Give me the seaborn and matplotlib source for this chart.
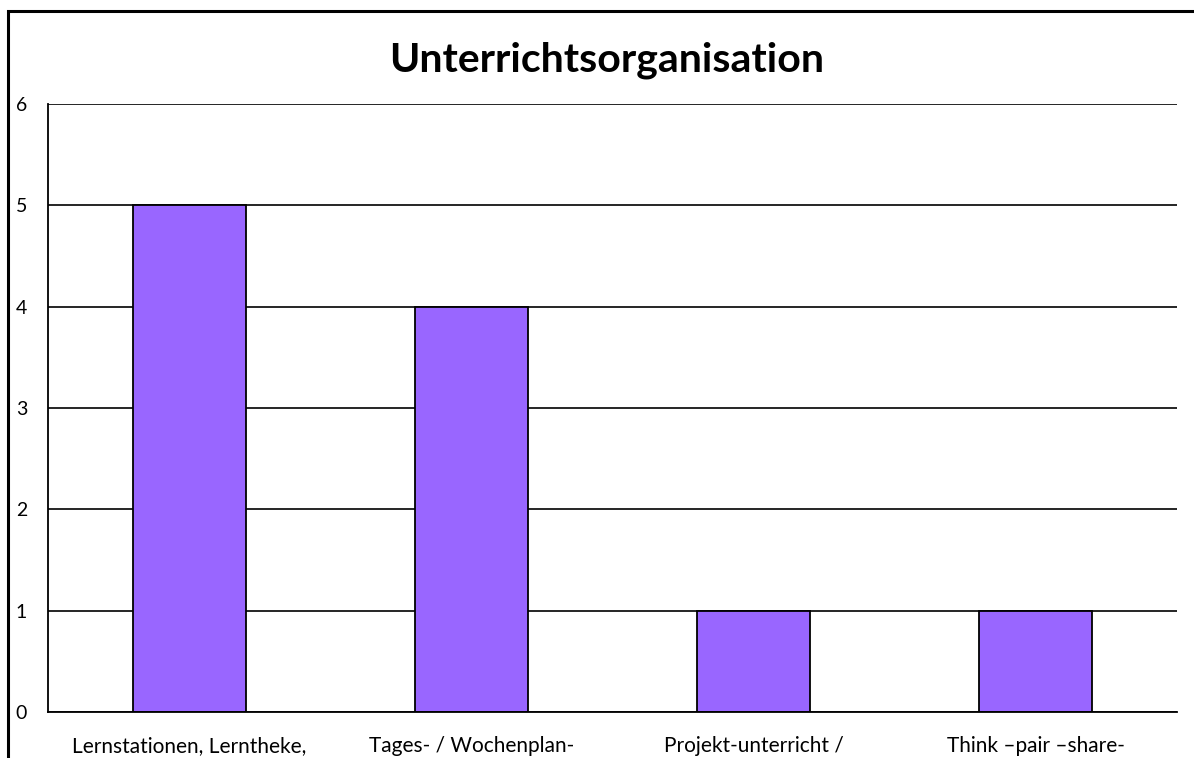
import matplotlib.pyplot as plt
import matplotlib.patches as mpatches
import seaborn as sns
import pandas as pd

categories = ['Lernstationen, Lerntheke,', 'Tages- / Wochenplan-',
              'Projekt-unterricht /', 'Think \u2013pair \u2013share-']
counts = [5, 4, 1, 1]
yticks = [0, 1, 2, 3, 4, 5, 6]

df = pd.DataFrame({'cat': categories, 'n': counts})

sns.set_style('white')
plt.rcParams['font.family'] = ['Lato', 'DejaVu Sans']
plt.rcParams['text.color'] = 'black'
plt.rcParams['xtick.color'] = 'black'
plt.rcParams['ytick.color'] = 'black'

fig = plt.figure(figsize=(11.94, 7.58), dpi=100)
ax = fig.add_axes([0.0402, 0.0607, 0.9456, 0.8021])

sns.barplot(data=df, x='cat', y='n', color='#9966FF', width=0.4,
            edgecolor='black', linewidth=1.3, saturation=1, ax=ax)

ax.set_ylim(0, 6)
ax.set_xlim(-0.5, 3.5)
ax.set_yticks(yticks)
ax.set_yticklabels([str(t) for t in yticks], fontsize=14)
ax.tick_params(axis='y', length=0, pad=15)
ax.tick_params(axis='x', length=0, pad=17, labelsize=15)
ax.yaxis.grid(True, color='black', linewidth=1.2)
ax.set_axisbelow(True)
ax.set_xlabel('')
ax.set_ylabel('')
for s in ['top', 'right']:
    ax.spines[s].set_visible(False)
for s in ['left', 'bottom']:
    ax.spines[s].set_color('black')
    ax.spines[s].set_linewidth(1.3)

fig.text(0.508, 0.921, 'Unterrichtsorganisation', ha='center', va='center',
         fontsize=29.5, fontweight='bold', color='black')

# outer chart border (cut off right and bottom)
fig.patches.append(mpatches.Rectangle((0.0067, -0.5), 1.5, 1.4855,
                                      transform=fig.transFigure, fill=False,
                                      edgecolor='black', linewidth=2.2))

fig.savefig('out.png', dpi=100)
